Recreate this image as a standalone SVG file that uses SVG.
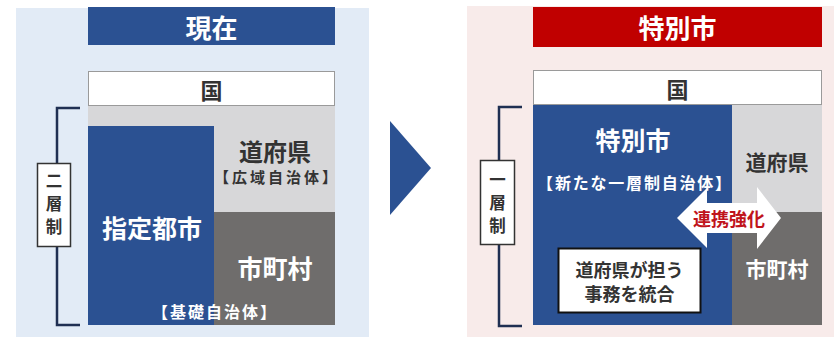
<svg xmlns="http://www.w3.org/2000/svg" width="840" height="337" viewBox="0 0 840 337">
<style>
text{font-family:"Noto Sans CJK JP","Noto Sans CJK SC",sans-serif;font-weight:bold;text-anchor:middle;dominant-baseline:central}
.blue{fill:#2b5192}
.lg{fill:#d7d7d9}
.dg{fill:#6f6d6c}
.w{fill:#ffffff}
.dk{fill:#333333}
.br{fill:none;stroke:#1f2f52;stroke-width:2.5}
.lbl{fill:#ffffff;stroke:#333333;stroke-width:1.5}
</style>
<g id="bg-left"><rect x="16" y="8" width="353" height="329" fill="#e2ebf6"/></g>
<g id="bg-right"><rect x="467" y="6" width="367" height="331" fill="#f8ebea"/></g>

<g id="title-left"><rect x="88" y="7" width="247" height="38" class="blue"/><text x="211.5" y="26" font-size="26" class="w">現在</text></g>
<g id="kuni-left"><rect x="88.5" y="71.5" width="246" height="34" fill="#fff" stroke="#9a9a9a" stroke-width="1"/><text x="211.5" y="88.5" font-size="22" class="dk">国</text></g>
<g id="dofuken-left"><rect x="88" y="106" width="247" height="106" class="lg"/><text class="dk"><tspan x="275" y="150" font-size="24">道府県</tspan><tspan x="277" y="176" font-size="15" letter-spacing="3">【広域自治体】</tspan></text></g>
<g id="shichoson-left"><rect x="214" y="212" width="121" height="113" class="dg"/><text x="275" y="267" font-size="25" class="w">市町村</text></g>
<g id="shitei-left"><rect x="88" y="126" width="126" height="199" class="blue"/><text x="152" y="227" font-size="25" class="w">指定都市</text></g>
<g id="kiso-left"><text x="215" y="311" font-size="16" class="w" letter-spacing="2">【基礎自治体】</text></g>
<g id="bracket-left"><path d="M80 108 H57 V325 H80" class="br"/><rect x="37.5" y="163.5" width="33" height="83" class="lbl"/><text font-size="16.5" class="dk"><tspan x="54" y="180">二</tspan><tspan x="54" y="203">層</tspan><tspan x="54" y="226">制</tspan></text></g>

<g id="arrow-main"><polygon points="390,121 431,168 390,215" class="blue"/></g>

<g id="title-right"><rect x="533" y="7" width="289" height="40" fill="#c00000"/><text x="677.5" y="26" font-size="26" class="w">特別市</text></g>
<g id="kuni-right"><rect x="533.5" y="70.5" width="288" height="34" fill="#fff" stroke="#9a9a9a" stroke-width="1"/><text x="677.5" y="87.5" font-size="22" class="dk">国</text></g>
<g id="dofuken-right"><rect x="732" y="105" width="90" height="107" class="lg"/><text x="777" y="161" font-size="21" class="dk">道府県</text></g>
<g id="shichoson-right"><rect x="732" y="212" width="90" height="113" class="dg"/><text x="777" y="268" font-size="21" class="w">市町村</text></g>
<g id="tokubetsu-right"><rect x="533" y="105" width="199" height="220" class="blue"/><text class="w"><tspan x="633" y="139" font-size="25">特別市</tspan><tspan x="635" y="182" font-size="16" letter-spacing="1.8">【新たな一層制自治体】</tspan></text></g>
<g id="jimu-box"><rect x="558.5" y="248.5" width="142" height="64" fill="#fff" stroke="#111" stroke-width="2"/><text font-size="18" class="dk"><tspan x="629.5" y="269">道府県が担う</tspan><tspan x="629.5" y="293">事務を統合</tspan></text></g>
<g id="connectors"><polygon points="677,218 707,188 707,203 757,203 757,187 781,218 757,249 757,233 707,233 707,248" fill="#ffffff"/><text x="729" y="218" font-size="18" fill="#c0141c">連携強化</text></g>
<g id="bracket-right"><path d="M522 107 H499 V326 H522" class="br"/><rect x="480.5" y="160.5" width="34" height="84" class="lbl"/><text font-size="16.5" class="dk"><tspan x="497.5" y="179">一</tspan><tspan x="497.5" y="202">層</tspan><tspan x="497.5" y="225">制</tspan></text></g>
</svg>
